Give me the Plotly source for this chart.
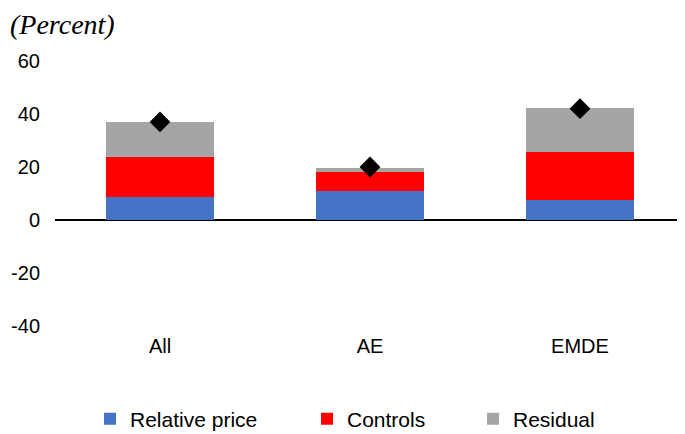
import plotly.graph_objects as go

categories = ["All", "AE", "EMDE"]
relative_price = [8.5, 11.1, 7.4]
controls = [15.4, 6.9, 18.2]
residual = [12.9, 1.8, 16.6]
total = [37, 20, 42]
y_ticks = [-40, -20, 0, 20, 40, 60]
y_tick_text = ["-40", "-20", "0", "20", "40", "60"]

# page has an 8px body margin; figure sized/offset to compensate
OFF = 8
W, H = 677, 426
L, R, T, B = 47, 0, 53, 108
pw = W - L - R
ph = H - T - B

def lx(page_x):
    return (page_x - OFF - L) / pw

def py(page_y):
    return 1 + (T + OFF - page_y) / ph

fig = go.Figure()
fig.add_trace(go.Bar(x=categories, y=relative_price, name="Relative price",
                     marker=dict(color="#4472C4", line=dict(width=0)), legend="legend"))
fig.add_trace(go.Bar(x=categories, y=controls, name="Controls",
                     marker=dict(color="#FF0000", line=dict(width=0)), legend="legend2"))
fig.add_trace(go.Bar(x=categories, y=residual, name="Residual",
                     marker=dict(color="#A5A5A5", line=dict(width=0)), legend="legend3"))
fig.add_trace(go.Scatter(x=categories, y=total, mode="markers", showlegend=False,
                         marker=dict(symbol="diamond", size=16, color="black")))

font_main = "Liberation Sans, Arial, sans-serif"
leg_common = dict(orientation="h", yanchor="middle", y=py(419), xanchor="left",
                  font=dict(size=21, color="#000000", family=font_main),
                  bgcolor="rgba(0,0,0,0)", itemwidth=30)

fig.update_layout(
    width=W, height=H,
    margin=dict(l=L, r=R, t=T, b=B, autoexpand=False),
    barmode="stack", bargap=0.49,
    plot_bgcolor="white", paper_bgcolor="white",
    font=dict(family=font_main, size=20, color="#000000"),
    legend=dict(**leg_common, x=lx(90)),
    legend2=dict(**leg_common, x=lx(307)),
    legend3=dict(**leg_common, x=lx(473)),
    xaxis=dict(showgrid=False, showline=False, ticks="", ticklabelstandoff=6,
               automargin=False, tickfont=dict(size=20)),
    yaxis=dict(range=[-40, 60], tickvals=y_ticks, ticktext=y_tick_text,
               showgrid=False, showline=False, automargin=False,
               zeroline=True, zerolinecolor="black", zerolinewidth=2,
               ticklabelstandoff=14, tickfont=dict(size=20)),
    annotations=[dict(text="<i>(Percent)</i>", xref="paper", yref="paper",
                      x=lx(9), y=1 + T / ph, xanchor="left", yanchor="top",
                      showarrow=False, borderpad=0,
                      font=dict(family="Liberation Serif, Times New Roman, serif", size=28,
                                color="#000000"))],
)

fig.write_html("out.html")
